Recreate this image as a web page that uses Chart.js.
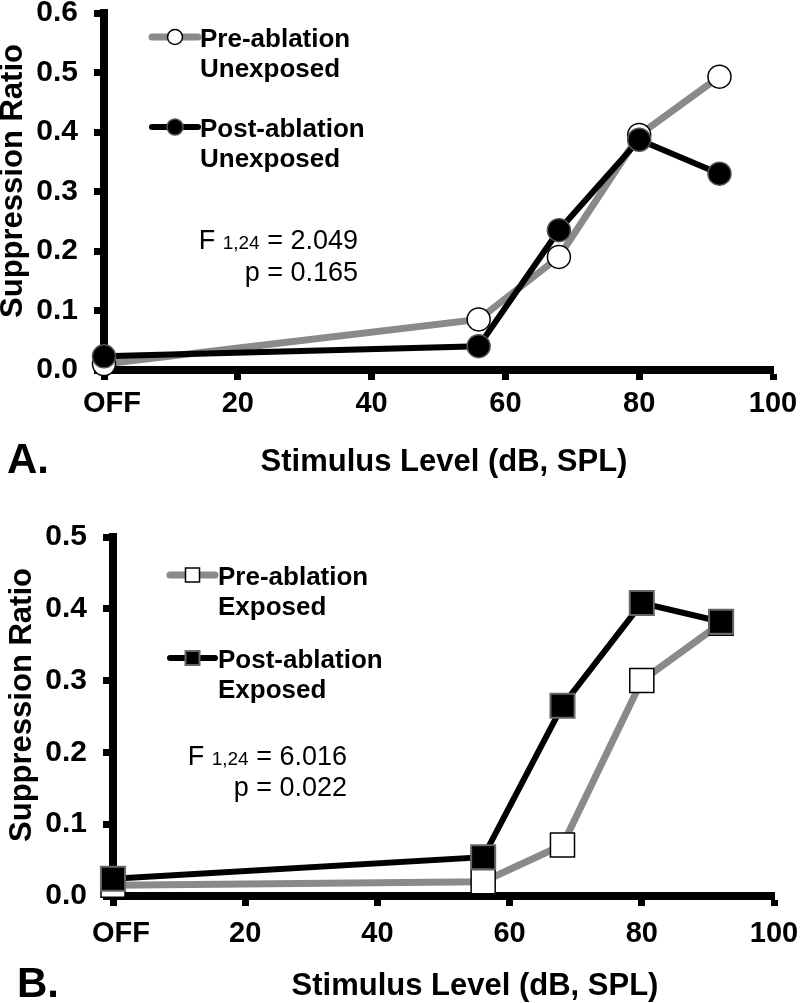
<!DOCTYPE html>
<html>
<head>
<meta charset="utf-8">
<script src="https://cdn.jsdelivr.net/npm/chart.js@4.4.1/dist/chart.umd.min.js"></script>
<style>
  body { margin: 0; background: #fff; }
  #wrap { position: relative; width: 800px; height: 1003px; }
  canvas { position: absolute; left: 0; }
</style>
</head>
<body>
<div id="wrap">
  <canvas id="chartA" width="800" height="490" style="top:0px"></canvas>
  <canvas id="chartB" width="800" height="513" style="top:490px"></canvas>
</div>
<script>
// stimulus levels (0 = OFF)
var levels = [0, 56, 68, 80, 92];

// panel A: unexposed
var preUnexposed  = [0.010, 0.085, 0.190, 0.395, 0.493];
var postUnexposed = [0.023, 0.040, 0.235, 0.387, 0.330];

// panel B: exposed
var preExposed  = [0.015, 0.020, 0.071, 0.300, 0.380];
var postExposed = [0.024, 0.054, 0.265, 0.408, 0.382];

var xTickValues = [0, 20, 40, 60, 80, 100];
var xTickLabels = ['  OFF', '20', '40', '60', '80', '100'];

var FONT = "'Liberation Sans', Arial, sans-serif";
Chart.defaults.font.family = FONT;
Chart.defaults.color = '#000';

function pts(vals) {
  return levels.map(function (x, i) { return { x: x, y: vals[i] }; });
}

// draws legend, stats, panel letter and axis titles
var panelText = {
  id: 'panelText',
  afterDraw: function (chart, args, o) {
    var ctx = chart.ctx;
    ctx.save();
    ctx.fillStyle = '#000';

    // legend
    o.legend.forEach(function (item) {
      var ds = chart.data.datasets[item.ds];
      ctx.strokeStyle = ds.borderColor;
      ctx.lineWidth = ds.borderWidth;
      ctx.lineCap = 'round';
      ctx.beginPath();
      ctx.moveTo(item.x0, item.y);
      ctx.lineTo(item.x1, item.y);
      ctx.stroke();
      var mx = (item.x0 + item.x1) / 2;
      ctx.fillStyle = ds.pointBackgroundColor;
      ctx.strokeStyle = ds.pointBorderColor;
      ctx.lineWidth = ds.pointBorderWidth;
      ctx.beginPath();
      if (ds.pointStyle === 'rect') {
        ctx.rect(mx - item.size / 2, item.y - item.size / 2, item.size, item.size);
      } else {
        ctx.arc(mx, item.y, item.size / 2, 0, Math.PI * 2);
      }
      ctx.fill();
      ctx.stroke();
      ctx.fillStyle = '#000';
      ctx.font = 'bold 26px ' + FONT;
      ctx.textAlign = 'left';
      ctx.textBaseline = 'alphabetic';
      ctx.fillText(item.lines[0], item.tx, item.b1);
      ctx.fillText(item.lines[1], item.tx, item.b2);
    });

    // stats
    var s = o.stats;
    var big = '27px ' + FONT, small = '19px ' + FONT;
    ctx.textBaseline = 'alphabetic';
    ctx.textAlign = 'left';
    ctx.font = big;
    var w1 = ctx.measureText('F ').width;
    var w3 = ctx.measureText(' = ' + s.f).width;
    ctx.font = small;
    var w2 = ctx.measureText('1,24').width;
    var sx = s.right - (w1 + w2 + w3);
    ctx.font = big;
    ctx.fillText('F ', sx, s.b1);
    ctx.font = small;
    ctx.fillText('1,24', sx + w1, s.b1);
    ctx.font = big;
    ctx.fillText(' = ' + s.f, sx + w1 + w2, s.b1);
    ctx.textAlign = 'right';
    ctx.fillText('p = ' + s.p, s.right, s.b2);

    // panel letter
    ctx.textAlign = 'left';
    ctx.font = 'bold 42px ' + FONT;
    ctx.fillText(o.letter.text, o.letter.x, o.letter.y);

    // x title
    ctx.textAlign = 'center';
    ctx.font = 'bold 31px ' + FONT;
    ctx.fillText('Stimulus Level (dB, SPL)', o.xTitle.x, o.xTitle.y);

    // y title
    ctx.translate(o.yTitle.x, o.yTitle.y);
    ctx.rotate(-Math.PI / 2);
    ctx.textBaseline = 'middle';
    ctx.fillText('Suppression Ratio', 0, 0);
    ctx.restore();
  }
};

function makeChart(id, cfg) {
  var isRect = cfg.pointStyle === 'rect';
  return new Chart(document.getElementById(id), {
    type: 'line',
    data: {
      datasets: [{
        label: cfg.labels[0],
        data: pts(cfg.pre),
        borderColor: '#8a8a8a',
        borderWidth: 7,
        pointStyle: cfg.pointStyle,
        pointRadius: cfg.pointRadius,
        pointBackgroundColor: '#ffffff',
        pointBorderColor: '#000000',
        pointBorderWidth: 1.5,
        tension: 0,
        clip: false,
        order: 1
      }, {
        label: cfg.labels[1],
        data: pts(cfg.post),
        borderColor: '#000000',
        borderWidth: 6,
        pointStyle: cfg.pointStyle,
        pointRadius: cfg.pointRadius,
        pointBackgroundColor: '#000000',
        pointBorderColor: isRect ? '#666666' : '#555555',
        pointBorderWidth: isRect ? 2 : 1.5,
        tension: 0,
        clip: false,
        order: 0
      }]
    },
    options: {
      responsive: false,
      animation: false,
      events: [],
      layout: { padding: { left: 0, top: cfg.top, right: 800 - cfg.right, bottom: 0 } },
      plugins: {
        legend: { display: false },
        tooltip: { enabled: false },
        panelText: cfg.text
      },
      scales: {
        x: {
          type: 'linear',
          min: 0,
          max: 100,
          afterFit: function (s) { s.height = cfg.xHeight; s.paddingLeft = 0; s.paddingRight = 0; },
          afterBuildTicks: function (s) { s.ticks = xTickValues.map(function (v) { return { value: v }; }); },
          ticks: {
            padding: cfg.xPad,
            autoSkip: false,
            maxRotation: 0,
            color: '#000',
            font: { size: 29, weight: 'bold' },
            callback: function (v) { return xTickLabels[xTickValues.indexOf(v)]; }
          },
          border: { display: true, color: '#000', width: 8 },
          grid: { drawOnChartArea: false, drawTicks: true, tickLength: 10, tickWidth: 7, tickColor: '#000', color: '#000' }
        },
        y: {
          min: 0,
          max: cfg.yMax,
          afterFit: function (s) { s.width = cfg.left; s.paddingTop = 0; s.paddingBottom = 0; },
          ticks: {
            stepSize: 0.1,
            padding: 16,
            color: '#000',
            font: { size: 30, weight: 'bold' },
            callback: function (v) { return v.toFixed(1); }
          },
          border: { display: true, color: '#000', width: 8 },
          grid: { drawOnChartArea: false, drawTicks: true, tickLength: 10, tickWidth: 7, tickColor: '#000', color: '#000' }
        }
      }
    },
    plugins: [panelText]
  });
}

makeChart('chartA', {
  pre: preUnexposed,
  post: postUnexposed,
  labels: ['Pre-ablation Unexposed', 'Post-ablation Unexposed'],
  pointStyle: 'circle',
  pointRadius: 11.5,
  yMax: 0.6,
  left: 104, right: 773, top: 12, xHeight: 120, xPad: 7,
  text: {
    legend: [
      { ds: 0, x0: 152, x1: 198, y: 37, size: 15, tx: 200, b1: 47, b2: 77, lines: ['Pre-ablation', 'Unexposed'] },
      { ds: 1, x0: 152, x1: 198, y: 127, size: 16, tx: 200, b1: 137, b2: 167, lines: ['Post-ablation', 'Unexposed'] }
    ],
    stats: { f: '2.049', p: '0.165', right: 358, b1: 249, b2: 281 },
    letter: { text: 'A.', x: 7, y: 473 },
    xTitle: { x: 444, y: 471 },
    yTitle: { x: 13, y: 181 }
  }
});

makeChart('chartB', {
  pre: preExposed,
  post: postExposed,
  labels: ['Pre-ablation Exposed', 'Post-ablation Exposed'],
  pointStyle: 'rect',
  pointRadius: 17,
  yMax: 0.5,
  left: 113, right: 774, top: 47, xHeight: 107, xPad: 11,
  text: {
    legend: [
      { ds: 0, x0: 170, x1: 215, y: 85, size: 14, tx: 218, b1: 95, b2: 125, lines: ['Pre-ablation', 'Exposed'] },
      { ds: 1, x0: 170, x1: 215, y: 168, size: 14, tx: 218, b1: 178, b2: 208, lines: ['Post-ablation', 'Exposed'] }
    ],
    stats: { f: '6.016', p: '0.022', right: 347, b1: 275, b2: 306 },
    letter: { text: 'B.', x: 17, y: 507 },
    xTitle: { x: 475, y: 505 },
    yTitle: { x: 22, y: 215 }
  }
});
</script>
</body>
</html>
